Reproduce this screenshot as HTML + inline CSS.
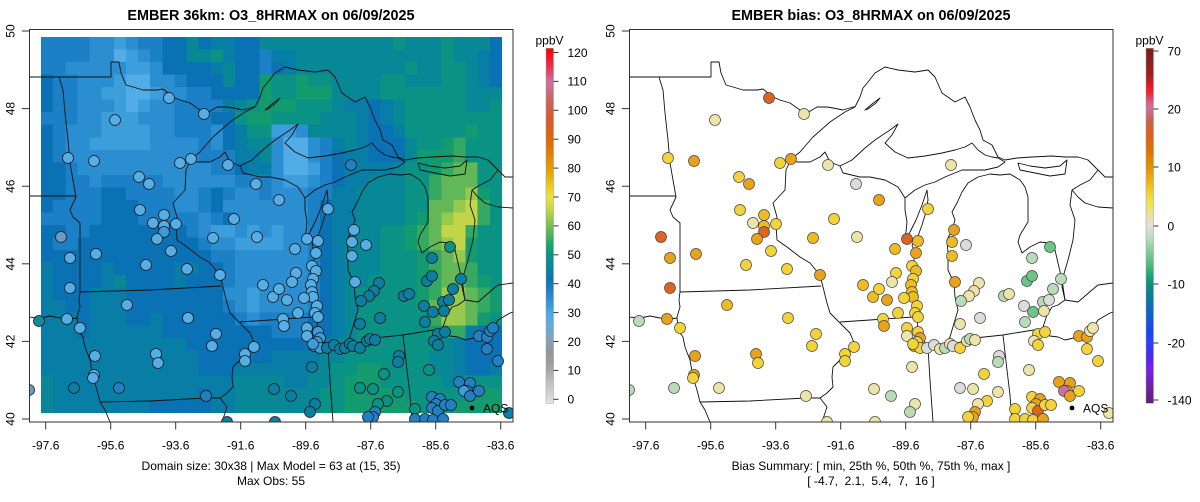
<!DOCTYPE html>
<html><head><meta charset="utf-8">
<style>
html,body{margin:0;padding:0;background:#fff}
svg{display:block}
text{font-family:"Liberation Sans",Arial,sans-serif;fill:#000}
</style></head><body>
<svg id="s" width="1200" height="502" viewBox="0 0 1200 502">
<defs>
<clipPath id="clipL"><rect x="29.5" y="29.5" width="483.5" height="392.5"/></clipPath>
<clipPath id="clipRas"><rect x="41" y="37" width="461" height="376"/></clipPath>
<linearGradient id="gL" x1="0" y1="0" x2="0" y2="1">
<stop offset="0" stop-color="#ff0000"/><stop offset="0.036" stop-color="#f02030"/><stop offset="0.069" stop-color="#e04868"/>
<stop offset="0.093" stop-color="#d070a0"/><stop offset="0.126" stop-color="#d06878"/><stop offset="0.158" stop-color="#d06050"/>
<stop offset="0.191" stop-color="#d85a30"/><stop offset="0.240" stop-color="#e06010"/><stop offset="0.272" stop-color="#e07000"/>
<stop offset="0.321" stop-color="#e89000"/><stop offset="0.354" stop-color="#e8a800"/><stop offset="0.386" stop-color="#f0c820"/>
<stop offset="0.419" stop-color="#f0e040"/><stop offset="0.452" stop-color="#c8d848"/><stop offset="0.484" stop-color="#90c850"/>
<stop offset="0.517" stop-color="#58b858"/><stop offset="0.549" stop-color="#20a868"/><stop offset="0.582" stop-color="#089484"/>
<stop offset="0.614" stop-color="#0a86a0"/><stop offset="0.647" stop-color="#0a76b0"/><stop offset="0.679" stop-color="#1a7ec4"/>
<stop offset="0.712" stop-color="#2e92d4"/><stop offset="0.745" stop-color="#4aaae6"/><stop offset="0.777" stop-color="#60acdc"/>
<stop offset="0.810" stop-color="#7ea4c0"/><stop offset="0.842" stop-color="#9098a0"/><stop offset="0.875" stop-color="#989898"/>
<stop offset="0.907" stop-color="#a8a8a8"/><stop offset="0.948" stop-color="#c4c4c4"/><stop offset="0.989" stop-color="#dcdcdc"/>
<stop offset="1" stop-color="#e4e4e4"/>
</linearGradient>
<linearGradient id="gR" x1="0" y1="0" x2="0" y2="1">
<stop offset="0" stop-color="#7a1e1e"/><stop offset="0.076" stop-color="#a02020"/><stop offset="0.104" stop-color="#e81818"/>
<stop offset="0.124" stop-color="#f02030"/><stop offset="0.141" stop-color="#e04868"/><stop offset="0.163" stop-color="#d070a0"/>
<stop offset="0.186" stop-color="#d06870"/><stop offset="0.208" stop-color="#d06040"/><stop offset="0.237" stop-color="#d86020"/>
<stop offset="0.287" stop-color="#e07000"/><stop offset="0.335" stop-color="#e89000"/><stop offset="0.372" stop-color="#f0b010"/>
<stop offset="0.406" stop-color="#f0d030"/><stop offset="0.439" stop-color="#f0e450"/><stop offset="0.473" stop-color="#ece0a8"/>
<stop offset="0.501" stop-color="#e0e0e0"/><stop offset="0.530" stop-color="#c0dcc0"/><stop offset="0.563" stop-color="#90d0a0"/>
<stop offset="0.603" stop-color="#58c080"/><stop offset="0.637" stop-color="#20a870"/><stop offset="0.665" stop-color="#0a9080"/>
<stop offset="0.704" stop-color="#0a7aa0"/><stop offset="0.752" stop-color="#1060d0"/><stop offset="0.794" stop-color="#1848f0"/>
<stop offset="0.831" stop-color="#2840ff"/><stop offset="0.868" stop-color="#5028f0"/><stop offset="0.907" stop-color="#7820e8"/>
<stop offset="0.949" stop-color="#7020b0"/><stop offset="1" stop-color="#602070"/>
</linearGradient>
<g id="lines" clip-path="url(#clipL)" fill="none" stroke="#111" stroke-width="0.9" stroke-linejoin="round">
<path d="M29,77 L111,77 L111,62 L119,62 L121,73 L126,85 L133,87 L143,90 L157,90 L163,89 L173,97 L180,100 L190,103 L200,110 L207,113 L217,107 L227,107 L233,108 L243,110 L253,107 L255,107"/>
<path d="M191,159 L200,152 L213,137 L230,122 L245,112 L255,107"/>
<path d="M255,107 L260,97 L263,88 L268,82 L275,73 L285,67 L298,70 L315,72 L328,70 L335,77 L342,93 L355,102 L365,97 L370,107 L375,120 L380,130 L383,140 L392,145 L398,157 L405,160 L417,158 L432,157 L452,156 L465,157 L478,157 L488,160 L498,170 L505,177 L513,177"/>
<path d="M191,159 L197,162 L210,162 L220,157 L225,152 L230,162 L240,166 L252,160 L265,148 L275,140 L290,130 L298,124 L292,135 L285,143 L295,152 L308,158 L325,156 L342,153 L355,150 L365,147 L372,143 L378,150 L385,155 L392,157 L398,158"/>
<path d="M240,166 L243,173 L260,177 L270,177 L285,180 L298,187 L305,198"/>
<path d="M305,198 L305,210 L307,222 L306,232 L303,240 L310,232 L316,220 L322,205 L327,190 L328,200 L326,212 L322,225 L318,236 L312,245 L315,253 L313,267 L310,280 L311,293 L315,305 L317,320 L318,328 L322,338 L328,347 L338,348 L347,343 L350,337 L352,330 L355,320 L358,310 L355,297 L354,283 L348,270 L348,253 L347,240 L352,230 L355,220 L352,212 L357,203 L362,192 L368,183 L378,177 L390,174 L400,175 L410,174 L420,180 L425,187 L428,197 L428,210 L428,222 L420,235 L418,242 L422,253 L430,247 L440,242 L448,243 L455,250 L458,263 L462,280 L465,300 L458,305 L452,307 L447,315 L443,327 L438,332 L450,336 L458,337 L465,340 L478,337 L492,330 L498,320 L510,313 L513,312"/>
<path d="M305,198 L315,190 L325,185 L335,182 L345,177 L362,170 L385,170 L398,167 L405,162 L398,158"/>
<path d="M498,170 L490,180 L480,185 L472,190 L478,197 L485,203 L498,207 L513,208"/>
<path d="M472,190 L470,205 L475,220 L473,240 L468,260 L463,277 L462,287 L465,300"/>
<path d="M465,300 L478,302 L492,290 L498,285 L513,283"/>
<path d="M418,163 L430,166 L445,168 L460,166 L467,160 L465,174 L450,176 L435,173 L420,170 Z"/>
<path d="M265,110 L272,104 L280,98 L276,103 L268,109 Z"/>
<path d="M29,196 L76,196"/>
<path d="M59,77 L63,90 L65,113 L68,140 L70,163 L73,180 L76,197 L70,210 L73,217 L80,223 L80,292"/>
<path d="M80,292 L150,290 L221,286"/>
<path d="M80,292 L79,300 L80,307 L77,317 L78,330 L83,337 L85,347 L90,360 L93,377 L97,390 L100,402 L105,410 L110,422"/>
<path d="M29,317 L40,318 L50,316 L60,318 L70,319 L77,318"/>
<path d="M100,402 L150,401 L206,398 L220,398"/>
<path d="M191,159 L186,170 L185,190 L173,203 L177,217 L176,225 L177,240 L187,247 L200,257 L210,263 L220,275 L223,287 L227,303 L230,313 L240,323 L250,333 L255,345 L247,353 L240,360 L233,367 L232,377 L233,387 L227,393 L220,398 L227,407 L222,422"/>
<path d="M240,322 L270,320 L313,317"/>
<path d="M328,348 L330,380 L333,422"/>
<path d="M338,348 L375,338 L403,335 L440,329"/>
<path d="M403,335 L407,370 L410,395 L412,422"/>
</g>
<g id="axes">
<rect x="29.5" y="29.5" width="483.5" height="392.5" fill="none" stroke="#333" stroke-width="1"/>
<g stroke="#333" stroke-width="1">
<line x1="22" y1="31" x2="29.5" y2="31"/><line x1="22" y1="108.6" x2="29.5" y2="108.6"/><line x1="22" y1="186.2" x2="29.5" y2="186.2"/>
<line x1="22" y1="263.8" x2="29.5" y2="263.8"/><line x1="22" y1="341.4" x2="29.5" y2="341.4"/><line x1="22" y1="419" x2="29.5" y2="419"/>
<line x1="45.7" y1="422" x2="45.7" y2="429.5"/><line x1="110.7" y1="422" x2="110.7" y2="429.5"/><line x1="175.7" y1="422" x2="175.7" y2="429.5"/>
<line x1="240.7" y1="422" x2="240.7" y2="429.5"/><line x1="305.7" y1="422" x2="305.7" y2="429.5"/><line x1="370.7" y1="422" x2="370.7" y2="429.5"/>
<line x1="435.7" y1="422" x2="435.7" y2="429.5"/><line x1="500.7" y1="422" x2="500.7" y2="429.5"/>
</g>
<g font-size="12" text-anchor="middle">
<text x="14.5" y="31" transform="rotate(-90 14.5 31)">50</text>
<text x="14.5" y="108.6" transform="rotate(-90 14.5 108.6)">48</text>
<text x="14.5" y="186.2" transform="rotate(-90 14.5 186.2)">46</text>
<text x="14.5" y="263.8" transform="rotate(-90 14.5 263.8)">44</text>
<text x="14.5" y="341.4" transform="rotate(-90 14.5 341.4)">42</text>
<text x="14.5" y="419" transform="rotate(-90 14.5 419)">40</text>
<text x="45.7" y="449.5">-97.6</text><text x="110.7" y="449.5">-95.6</text><text x="175.7" y="449.5">-93.6</text>
<text x="240.7" y="449.5">-91.6</text><text x="305.7" y="449.5">-89.6</text><text x="370.7" y="449.5">-87.6</text>
<text x="435.7" y="449.5">-85.6</text><text x="500.7" y="449.5">-83.6</text>
</g>
</g>
</defs>
<rect width="1200" height="502" fill="#fff"/>
<g id="raster" clip-path="url(#clipRas)" shape-rendering="crispEdges"></g>
<use href="#lines"/>
<use href="#lines" transform="translate(600,0)"/>
<g id="ptsL" clip-path="url(#clipL)"></g>
<g transform="translate(600,0)"><g id="ptsR" clip-path="url(#clipL)"></g></g>
<use href="#axes"/>
<use href="#axes" transform="translate(600,0)"/>

<circle cx="472" cy="408" r="2.4" fill="#000"/>
<text x="483" y="412.5" font-size="12">AQS</text>
<circle cx="1072" cy="408" r="2.4" fill="#000"/>
<text x="1083" y="412.5" font-size="12">AQS</text>

<text x="271" y="20" font-size="14.4" font-weight="bold" text-anchor="middle">EMBER 36km: O3_8HRMAX on 06/09/2025</text>
<text x="871" y="20" font-size="14.4" font-weight="bold" text-anchor="middle">EMBER bias: O3_8HRMAX on 06/09/2025</text>

<g font-size="12" text-anchor="middle">
<text x="271" y="470">Domain size: 30x38 | Max Model = 63 at (15, 35)</text>
<text x="271" y="485">Max Obs: 55</text>
<text x="871" y="470">Bias Summary: [ min, 25th %, 50th %, 75th %, max ]</text>
<text x="871" y="485" xml:space="preserve">[ -4.7,  2.1,  5.4,  7,  16 ]</text>
</g>

<!-- colorbar left -->
<rect x="546" y="48.3" width="7.5" height="355" fill="url(#gL)" stroke="#999" stroke-width="0.5"/>
<text x="549.5" y="44.5" font-size="12" text-anchor="middle">ppbV</text>
<g id="cbL" font-size="12"></g>
<!-- colorbar right -->
<rect x="1146" y="48.3" width="7.5" height="355" fill="url(#gR)" stroke="#999" stroke-width="0.5"/>
<text x="1149.5" y="44.5" font-size="12" text-anchor="middle">ppbV</text>
<g stroke="#333" stroke-width="1">
<line x1="1153.5" y1="51" x2="1158.5" y2="51"/><line x1="1153.5" y1="109" x2="1158.5" y2="109"/>
<line x1="1153.5" y1="167" x2="1158.5" y2="167"/><line x1="1153.5" y1="226" x2="1158.5" y2="226"/>
<line x1="1153.5" y1="284" x2="1158.5" y2="284"/><line x1="1153.5" y1="343" x2="1158.5" y2="343"/>
<line x1="1153.5" y1="400" x2="1158.5" y2="400"/>
</g>
<g font-size="12">
<text x="1167.5" y="55.3">70</text><text x="1167.5" y="113.3">20</text><text x="1167.5" y="171.3">10</text>
<text x="1167.5" y="230.3">0</text><text x="1167.5" y="288.3">-10</text><text x="1167.5" y="347.3">-20</text>
<text x="1167.5" y="404.3">-140</text>
</g>
</svg>
<script>
(function(){
var rows=[
"ddddccbcddeegeffeeg"+"gggggggggghggghggge",
"ddddccabcdeegghfeed"+"ffgggggggggggghggfe",
"ddcccccbbceeeefgeed"+"efggggggggghgghhgfe",
"eddcccbaaccdeeegeei"+"hhihhgggghhggghhgfe",
"eddccbbaabccddeeeei"+"hhiiigggghhhhhhhggg",
"eddcccbabccddddfghi"+"iihhhgffefghhhhhggh",
"dddccbbbcccdddeehii"+"hhhhgggfefghhhhhhhh",
"edcccbbbbccdddcefhh"+"bbcggggfeefhhhhhihh",
"edccbbbbbccccdcefgg"+"caacdfgfeeeghhijhhh",
"edcccccccccccdddffg"+"caacdeffeeegiiijhhh",
"eedcccccccccccddeff"+"caabdeffffghhijkkhh",
"eeddcdddddccccccddd"+"cbbcdeffggghhjkkkhh",
"eedddeeddddccdedccd"+"cccddffgggghhjkklih",
"eddddeeedddccdecccc"+"cccdeffgggghhkklmjh",
"dddddeeedddddcdeccc"+"cccdeffgggghiklmmjh",
"eeddeeeeeeeedcbbcbc"+"bccdeffgghhijkmmjhh",
"eddeeeeeeeeeedccbbb"+"bccdefggghhijklmihh",
"eeeeeeeeeeeeeeddccc"+"cccdefggghhhijklihh",
"feeeefeeeeeffeedccc"+"cccdefggghhhijkkjhh",
"feeeefgeeeefeeedccc"+"cccdefgghhhhijkkjih",
"feeefffeeeeeeeeccbc"+"cccdefghhhhhijllkji",
"ffeefffeeeeeeeedcbc"+"cccdefghhhhhikllkji",
"fffefffeefeeeeeedcd"+"dddeefghhhhhhjllkih",
"fffeffffffeeeeeeeee"+"dddeefghhhhhhijjfee",
"ffffffffffffeeeeeee"+"eeeefgghhhhhhhgfeee",
"fffffffffffffeeeeee"+"ffffgghhhhhhhggfeee",
"fffffffffffffeeefff"+"fffgghhiihhhhggfeef",
"gfffffffffffffffggg"+"gffgghiiihhhhhgghhh",
"gffffffffffffeffggg"+"gggghhiiiiihhhhhiii",
"gffffffffeeeeeffggg"+"gggghhiiiiiihhhiiii"];
var cm={a:'#52ade6',b:'#3d9edc',c:'#2a8ed0',d:'#1b80c5',e:'#0a71b4',f:'#087da6',g:'#088896',h:'#0a9284',i:'#139a6e',j:'#35a962',k:'#62b858',l:'#98c84c',m:'#c3d548'};
var cw=461/38, rh=376/30, s='';
for(var i=0;i<30;i++){var r=rows[i];while(r.length<38)r+=r.charAt(r.length-1);
 for(var j=0;j<38;j++){var x=41+j*cw,y=37+i*rh;
  s+='<rect x="'+x.toFixed(2)+'" y="'+y.toFixed(2)+'" width="'+(cw+0.6).toFixed(2)+'" height="'+(rh+0.6).toFixed(2)+'" fill="'+(cm[r.charAt(j)]||'#1b80c5')+'"/>';}}
document.getElementById('raster').innerHTML=s;

var P="169,98,A,R;204,114,A,L;115,120,A,L;68,158,A,Y;94,161,A,O;180,163,A,Y;191,159,A,O;228,165,A,L;139,177,A,Y;149,184,A,O;256,184,A,G;279,200,A,O;328,209,A,Y;351,165,D,L;140,210,A,Y;164,215,A,y;153,223,A,L;164,226,A,y;176,224,A,Y;164,232,B,R;157,239,A,O;234,219,A,Y;257,237,A,L;213,238,A,y;171,251,A,Y;61,237,S,R;70,258,A,O;96,254,A,O;146,265,A,Y;187,269,A,Y;220,275,A,O;263,285,A,y;70,288,A,R;127,305,A,y;188,318,A,Y;39,321,T,g;67,319,A,O;80,328,A,Y;216,334,A,Y;212,346,A,Y;254,347,A,Y;245,354,A,Y;245,361,A,Y;156,354,A,O;158,363,A,Y;95,356,A,O;94,375,A,O;93,378,A,Y;74,388,F,g;119,388,D,L;206,396,D,L;29,390,S,g;307,239,A,R;318,241,A,y;295,249,A,y;316,253,A,O;354,230,A,O;352,242,A,y;366,245,A,G;352,256,A,y;312,266,A,Y;316,271,A,y;296,273,A,Y;313,279,A,Y;292,282,A,L;311,285,A,y;312,292,A,y;313,297,A,y;355,282,A,O;379,283,F,L;273,297,A,y;287,300,A,O;304,298,A,Y;279,289,A,Y;374,291,F,L;369,296,F,L;361,301,F,g;404,296,F,g;409,294,F,L;450,247,H,E;432,258,F,g;427,281,F,E;432,276,F,E;461,279,F,g;453,289,F,g;443,302,F,g;449,300,F,G;424,306,F,G;433,312,F,E;444,311,F,L;425,322,F,g;317,306,A,Y;298,313,A,Y;315,313,A,Y;318,317,A,Y;283,319,A,Y;284,326,A,O;380,318,F,G;360,324,F,L;307,328,A,Y;307,336,A,L;318,332,B,Y;320,338,B,O;317,342,B,Y;314,346,B,O;320,348,B,Y;313,344,B,Y;327,348,F,G;334,345,F,G;340,349,F,L;345,348,F,g;350,344,F,L;353,346,F,G;360,348,F,Y;367,341,F,L;370,339,F,g;375,340,F,L;438,334,F,Y;445,332,F,Y;434,341,F,L;438,345,F,Y;479,336,D,O;487,337,D,O;490,331,D,L;493,328,D,L;487,349,D,Y;498,361,D,Y;399,356,F,G;398,362,F,g;312,367,F,L;384,374,H,Y;429,370,H,L;274,389,F,L;291,396,F,g;360,388,H,G;373,389,H,L;398,392,H,L;387,401,H,Y;378,404,H,L;375,412,D,O;373,417,D,O;368,417,D,Y;315,404,F,L;310,412,F,g;432,397,D,Y;440,399,D,O;436,404,D,O;432,408,D,Y;438,411,D,R;445,405,D,Y;451,405,D,Y;415,409,H,Y;415,419,D,Y;425,419,D,Y;433,420,D,Y;443,419,D,O;459,382,D,O;470,383,D,O;467,391,D,O;464,391,B,P;470,396,D,O;479,391,D,Y;509,413,F,L;275,422,F,L;227,422,F,L";
var lm={A:'#55aee6',B:'#3d9ddc',D:'#1f80c4',F:'#0a7fa2',H:'#0a9282',S:'#6c9cc4',T:'#138aa0'};
var rm={Y:'#f2d43a',O:'#e9a21a',R:'#dc6420',L:'#ece4a8',G:'#dcdcdc',g:'#b8dcb8',E:'#6cc488',P:'#d070a0',y:'#eebc22'};
var sl='',sr='',pts=P.split(';');
for(var k=0;k<pts.length;k++){var q=pts[k].split(',');
 sl+='<circle cx="'+q[0]+'" cy="'+q[1]+'" r="5.5" fill="'+lm[q[2]]+'" stroke="#1a1a1a" stroke-width="0.8"/>';
 sr+='<circle cx="'+q[0]+'" cy="'+q[1]+'" r="5.5" fill="'+rm[q[3]]+'" stroke="#444" stroke-width="0.7"/>';}
document.getElementById('ptsL').innerHTML=sl;
document.getElementById('ptsR').innerHTML=sr;

var c='';
for(var v=0;v<=120;v+=10){var y=399.3-2.89*v;
 c+='<line x1="553.5" y1="'+y.toFixed(1)+'" x2="558.5" y2="'+y.toFixed(1)+'" stroke="#333" stroke-width="1"/>';
 c+='<text x="567.5" y="'+(y+4.3).toFixed(1)+'">'+v+'</text>';}
document.getElementById('cbL').innerHTML=c;
})();
</script>
</body></html>
